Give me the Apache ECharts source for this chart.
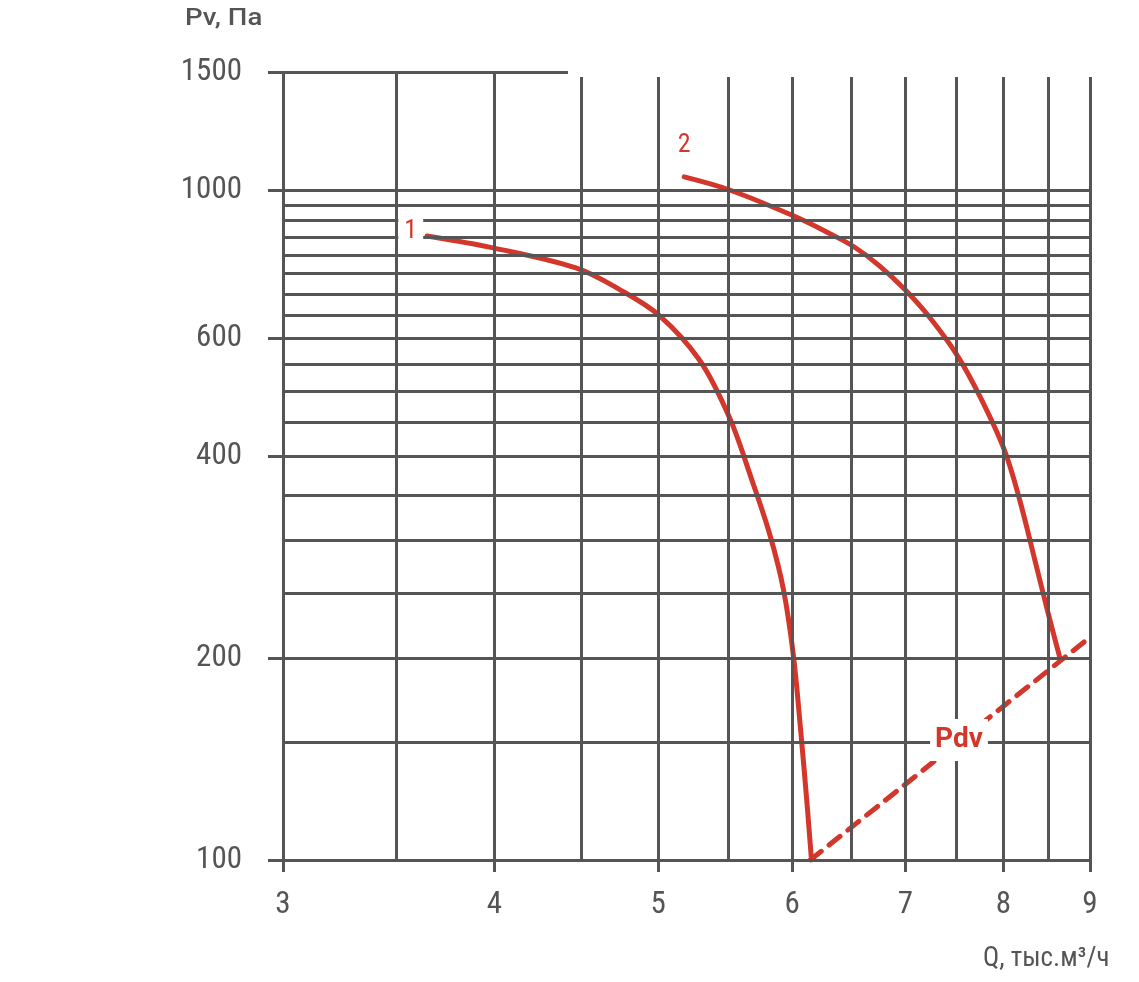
<!DOCTYPE html>
<html><head><meta charset="utf-8">
<script src="https://cdn.jsdelivr.net/npm/echarts@6/dist/echarts.min.js"></script>
<style>html,body{margin:0;padding:0;background:#fff}#c{width:1139px;height:982px}</style>
</head><body><div id="c"></div>
<script>
// ---- data ----
const xTicks = [3, 4, 5, 6, 7, 8, 9];
const xGrid = [3, 3.5, 4, 4.5, 5, 5.5, 6, 6.5, 7, 7.5, 8, 8.5, 9];
const yTicks = [100, 200, 400, 600, 1000, 1500];
const yGrid = [100, 150, 200, 250, 300, 350, 400, 450, 500, 550, 600, 650, 700, 750, 800, 850, 900, 950, 1000, 1500];

const q1 = [3.65, 4.0, 4.47, 4.75, 5.01, 5.29, 5.51, 5.68, 5.82, 5.93, 6.01, 6.07, 6.12, 6.16];
const p1 = [854, 819, 765, 709, 649, 557, 457, 369, 306, 253, 202, 156, 123, 100];

const q2 = [5.18, 5.51, 6.01, 6.32, 6.53, 6.76, 7.0, 7.24, 7.51, 7.75, 8.01, 8.18, 8.35, 8.5, 8.64];
const p2 = [1046, 1000, 915, 860, 822, 770, 709, 644, 567, 491, 409, 344, 280, 234, 200];

const qPdv = [6.15, 9];
const pPdv = [100, 215];

const labelNames = ['1', '2', 'Pdv'];
const labelQ = [3.57, 5.18, 7.53];
const labelP = [868, 1165, 151];

// ---- chart ----
// log10 rounded the same way markLine rounds (precision 10), so edge lines stay inside the extent
const L = v => Number(Math.log10(v).toFixed(10));
const RED = '#d3362b';
const GRAY = '#555555';
const COND = "'Roboto Condensed', sans-serif";

const pts = (qs, ps) => qs.map((q, i) => [L(q), L(ps[i])]);
const fmt = v => String(Math.round(Math.pow(10, v)));

const chart = echarts.init(document.getElementById('c'), null, {renderer: 'canvas'});
chart.setOption({
  animation: false,
  backgroundColor: '#fff',
  grid: {left: 283, right: 49, top: 72, bottom: 122},
  xAxis: {
    type: 'value', min: L(3), max: L(9),
    splitLine: {show: false},
    axisLine: {show: false},
    axisTick: {show: true, customValues: xTicks.map(L), length: 12, lineStyle: {color: GRAY, width: 3}},
    axisLabel: {customValues: xTicks.map(L), formatter: fmt,
      color: GRAY, fontSize: 31, fontFamily: COND, margin: 30}
  },
  yAxis: {
    type: 'value', min: L(100), max: L(1500),
    splitLine: {show: false},
    axisLine: {show: false},
    axisTick: {show: true, customValues: yTicks.map(L), length: 15, lineStyle: {color: GRAY, width: 3}},
    axisLabel: {customValues: yTicks.map(L), formatter: fmt,
      color: GRAY, fontSize: 31, fontFamily: COND, margin: 41}
  },
  series: [
    {
      type: 'line', silent: true, z: 1, symbol: 'none',
      data: [[L(3), L(100)]], lineStyle: {opacity: 0},
      markLine: {
        silent: true, symbol: ['none', 'none'], precision: 10, label: {show: false},
        lineStyle: {color: GRAY, width: 3, type: 'solid'},
        emphasis: {disabled: true},
        data: xGrid.map(v => ({xAxis: L(v)})).concat(yGrid.map(v => ({yAxis: L(v)})))
      }
    },
    {type: 'line', z: 3, smooth: 0.35, symbol: 'none', data: pts(q1, p1),
      lineStyle: {color: RED, width: 5, cap: 'round'}},
    {type: 'line', z: 3, smooth: 0.35, symbol: 'none', data: pts(q2, p2),
      lineStyle: {color: RED, width: 5, cap: 'round'}},
    {type: 'line', z: 3, symbol: 'none', data: pts(qPdv, pPdv),
      lineStyle: {color: RED, width: 5, type: [14, 10], cap: 'round'}},
    {type: 'scatter', z: 6, symbolSize: 0, silent: true,
      emphasis: {disabled: true},
      data: labelNames.map((n, i) => ({
        name: n, value: [L(labelQ[i]), L(labelP[i])],
        label: n === 'Pdv'
          ? {fontFamily: 'Roboto', fontWeight: 'bold', fontSize: 28, lineHeight: 30, padding: [6, 5]}
          : {}
      })),
      label: {show: true, position: 'inside', formatter: p => p.name, color: RED, opacity: 1,
        backgroundColor: '#fff', fontFamily: COND, fontSize: 26, lineHeight: 27, padding: [9, 6]}
    }
  ],
  graphic: [
    {type: 'rect', left: 568, top: 0, shape: {width: 571, height: 77}, style: {fill: '#fff'}, z: 100},
    {type: 'text', x: 185, y: 8, scaleX: 1.2, z: 101,
      style: {text: 'Pv, Па', fill: GRAY, font: "500 23px Roboto"}},
    {type: 'text', left: 983, top: 946, z: 101, style: {text: 'Q, тыс.м³/ч', fill: GRAY, font: "27px " + COND}}
  ]
});
</script></body></html>
